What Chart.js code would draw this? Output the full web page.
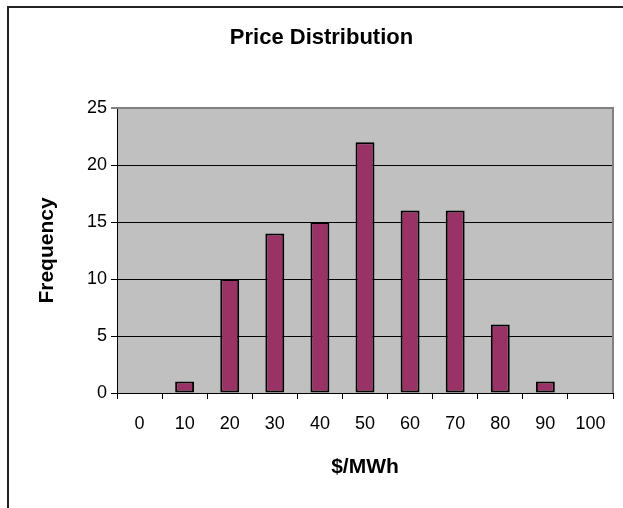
<!DOCTYPE html>
<html>
<head>
<meta charset="utf-8">
<script src="https://cdn.jsdelivr.net/npm/chart.js@4"></script>
<style>
  html, body { margin: 0; padding: 0; background: #fff; }
  #wrap { width: 623px; height: 508px; }
</style>
</head>
<body>
<div id="wrap"><canvas id="priceChart" width="623" height="508"></canvas></div>
<script>
const priceBins = ['0', '10', '20', '30', '40', '50', '60', '70', '80', '90', '100'];
const frequency = [0, 1, 10, 14, 15, 22, 16, 16, 6, 1, 0];
const yTicks = [0, 5, 10, 15, 20, 25];

const FONT = "Arial, 'Liberation Sans', sans-serif";

// white page, outer chart frame, grey plot area and its grey top/right edge
const plotFrame = {
  id: 'plotFrame',
  beforeDraw(chart) {
    const { ctx, chartArea: a } = chart;
    ctx.save();
    ctx.fillStyle = '#fff';
    ctx.fillRect(0, 0, chart.width, chart.height);
    ctx.strokeStyle = '#222';
    ctx.lineWidth = 2;
    ctx.strokeRect(8, 7, chart.width + 20, chart.height + 20);
    ctx.fillStyle = '#c0c0c0';
    ctx.fillRect(a.left, a.top, a.right - a.left, a.bottom - a.top);
    ctx.restore();
  },
  beforeDatasetsDraw(chart) {
    const { ctx, chartArea: a } = chart;
    ctx.save();
    ctx.strokeStyle = '#808080';
    ctx.lineWidth = 2;
    ctx.beginPath();
    ctx.moveTo(a.left, a.top);
    ctx.lineTo(a.right, a.top);
    ctx.lineTo(a.right, a.bottom);
    ctx.stroke();
    ctx.restore();
  }
};

new Chart(document.getElementById('priceChart'), {
  type: 'bar',
  data: {
    labels: priceBins,
    datasets: [{
      data: frequency,
      backgroundColor: '#993366',
      borderColor: '#000',
      borderWidth: 2,
      borderSkipped: false,
      barPercentage: 0.42,
      categoryPercentage: 1
    }]
  },
  options: {
    responsive: false,
    animation: false,
    // wider left padding keeps the title centred on the framed box
    layout: { padding: { left: 30, right: 10, top: 0, bottom: 0 } },
    plugins: {
      legend: { display: false },
      tooltip: { enabled: false },
      title: {
        display: true,
        text: 'Price Distribution',
        color: '#000',
        font: { family: FONT, size: 22, weight: 'bold' },
        padding: { top: 25, bottom: 56.6 }
      }
    },
    scales: {
      x: {
        grid: {
          display: true,
          drawOnChartArea: false,
          drawTicks: true,
          tickLength: 6,
          color: '#000'
        },
        border: { display: true, color: '#000', width: 1 },
        ticks: {
          color: '#000',
          padding: 14,
          font: { family: FONT, size: 18 }
        },
        title: {
          display: true,
          text: '$/MWh',
          color: '#000',
          font: { family: FONT, size: 21, weight: 'bold' },
          padding: { top: 0, bottom: 28 }
        },
        afterFit(scale) { scale.height = 115; }
      },
      y: {
        min: 0,
        max: 25,
        afterBuildTicks(scale) { scale.ticks = yTicks.map(v => ({ value: v })); },
        grid: {
          drawTicks: true,
          tickLength: 6,
          color: ctx => (ctx.tick && ctx.tick.value === 25 ? '#808080' : '#000'),
          lineWidth: ctx => (ctx.tick && ctx.tick.value === 25 ? 2 : 1)
        },
        border: { display: true, color: '#000', width: 1 },
        ticks: {
          color: '#000',
          padding: 4,
          font: { family: FONT, size: 18 }
        },
        title: {
          display: true,
          text: 'Frequency',
          color: '#000',
          font: { family: FONT, size: 21, weight: 'bold' },
          padding: { top: 4.4, bottom: 0 }
        },
        afterFit(scale) { scale.width = 87; }
      }
    }
  },
  plugins: [plotFrame]
});
</script>
</body>
</html>
